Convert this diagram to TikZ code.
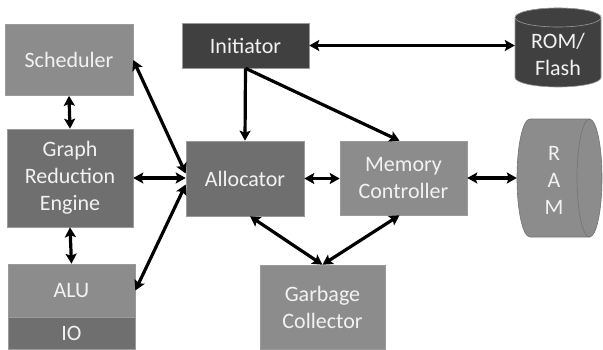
\documentclass[tikz,border=0pt]{standalone}
\usepackage{fontspec}
\setmainfont{Carlito}
\usepackage{xcolor}
\usepackage{tikz}
\usetikzlibrary{arrows.meta,calc}

\definecolor{darkfill}{HTML}{404040}
\definecolor{midfill}{HTML}{6F6F6F}
\definecolor{lightfill}{HTML}{8C8C8C}
\definecolor{edgegray}{HTML}{9A9A9A}

\tikzset{
    unit/.style={rectangle, draw=edgegray, line width=0.6pt, text=white!95!black,
        align=center, inner sep=0pt, font=\fontsize{22}{27}\selectfont},
    label/.style={text=white!95!black, align=center, inner sep=0pt,
        font=\fontsize{22}{27}\selectfont},
    link/.style={line width=3.2pt, {Stealth[length=10pt,width=11pt,inset=2pt]}-{Stealth[length=10pt,width=11pt,inset=2pt]}},
    feed/.style={line width=3.2pt, -{Stealth[length=10pt,width=11pt,inset=2pt]}}
}

\begin{document}
\begin{tikzpicture}[x=1pt,y=-1pt]
    \useasboundingbox (0,0) rectangle (603,349);

    % Left column
    \node[unit, fill=lightfill, minimum width=128pt, minimum height=71pt] (sched) at (69,60) {Scheduler};
    \node[unit, fill=midfill, minimum width=126pt, minimum height=98pt] (gre) at (70,178) {Graph\\Reduction\\Engine};
    \node[unit, fill=lightfill, minimum width=127pt, minimum height=53pt] (alu) at (71.5,290.5) {ALU};
    \node[unit, fill=midfill, minimum width=127pt, minimum height=32pt] (io) at (71.5,333) {IO};

    % Middle
    \node[unit, fill=darkfill, minimum width=127pt, minimum height=45pt] (init) at (245.5,45.5) {Initiator};
    \node[unit, fill=midfill, minimum width=118pt, minimum height=75pt] (alloc) at (245,178.5) {Allocator};
    \node[unit, fill=lightfill, minimum width=127pt, minimum height=74pt] (mc) at (403.5,178) {Memory\\Controller};
    \node[unit, fill=lightfill, minimum width=125pt, minimum height=84pt] (gc) at (322.5,307) {Garbage\\Collector};

    % ROM/Flash
    \filldraw[fill=darkfill, draw=edgegray, line width=0.6pt]
        (515,17.5) -- (515,77.5) arc (180:0:43 and 9.5) -- (601,17.5) arc (0:-180:43 and 9.5) -- cycle;
    \filldraw[fill=darkfill, draw=edgegray, line width=0.6pt] (558,17.5) ellipse [x radius=43, y radius=9.5];
    \node[label, minimum width=86pt] (rom) at (558,54) {ROM/\\Flash};

    % RAM
    \filldraw[fill=lightfill, draw=black!55, line width=0.6pt]
        (589.5,119) -- (530,119) arc (270:90:13 and 59) -- (589.5,237) -- cycle;
    \filldraw[fill=lightfill, draw=black!55, line width=0.6pt] (589.5,178) ellipse [x radius=12.5, y radius=59];
    \node[label, minimum width=74pt] (ram) at (554,180) {R\\A\\M};

    % Connections
    \draw[link] (init.east) -- (init.east -| rom.west);
    \draw[feed] (init.south) -- (alloc.north);
    \draw[feed] (init.south) -- ($(mc.north)+(-4,0)$);
    \draw[link] (sched.south) -- (gre.north);
    \draw[link] (gre.south) -- (alu.north);
    \draw[link] (sched.east) -- ($(alloc.west)+(0,-5)$);
    \draw[link] (gre.east) -- (gre.east -| alloc.west);
    \draw[link] (alu.east) -- ($(alloc.west)+(0,6)$);
    \draw[link] (alloc.east) -- (alloc.east -| mc.west);
    \draw[link] (mc.east) -- (mc.east -| ram.west);
    \draw[link] ($(alloc.south)+(5,0)$) -- (gc.north);
    \draw[link] ($(mc.south)+(-4,0)$) -- (gc.north);
\end{tikzpicture}
\end{document}
